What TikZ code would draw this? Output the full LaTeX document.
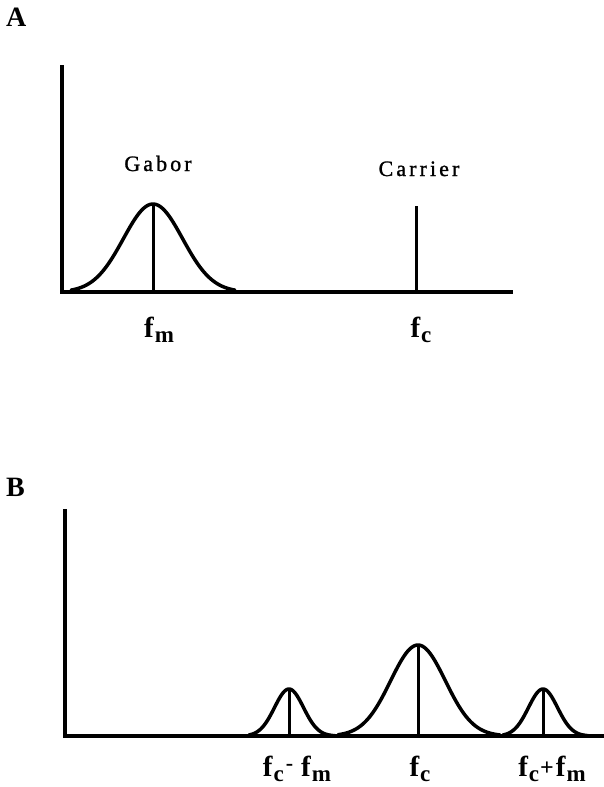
\documentclass[tikz,border=0pt]{standalone}
\usepackage{fontspec}
\setmainfont{Liberation Serif}
\newfontfamily\spacedfont[LetterSpace=14,FakeBold=1.2]{Liberation Serif}
\newfontfamily\freqfont[LetterSpace=8]{Liberation Serif}
\tikzset{
  axisline/.style={line width=3.5pt, line cap=rect},
  curveline/.style={line width=3.5pt, line join=round, line cap=round},
  stemline/.style={line width=3pt},
  panellabel/.style={font=\fontsize{28}{28}\selectfont\bfseries, anchor=base west, inner sep=0pt},
  namelabel/.style={font=\fontsize{22}{22}\selectfont\spacedfont, anchor=base, inner sep=0pt},
  freqlabel/.style={font=\fontsize{29}{29}\selectfont\freqfont\bfseries, anchor=base, inner sep=0pt}
}
\newcommand{\sbf}[1]{\kern1pt\raisebox{-5pt}{\fontsize{23}{23}\selectfont\freqfont\bfseries #1}}
\begin{document}
\begin{tikzpicture}[x=1pt,y=-1pt]
\useasboundingbox (0,0) rectangle (603,787);
% ---------- Panel A ----------
\node[panellabel] (la) at (6,27) {A};
\coordinate (ya) at (62,67);
\coordinate (oa) at (62,292);
\coordinate (xa) at (511,292);
\draw[axisline] (ya) -- (oa) -- (xa);
\draw[curveline] plot[domain=-82:82, samples=80, smooth] ({153+\x},{292-88*exp(-(\x*\x)/1750)});
\coordinate (gp) at (153,205);
\coordinate (gb) at (153,292);
\draw[stemline] (gp) -- (gb);
\coordinate (cp) at (416,206);
\coordinate (cb) at (416,292);
\draw[stemline] (cp) -- (cb);
\node[namelabel] (gabor) at (158,171) {Gabor};
\node[namelabel] (carrier) at (419,176) {Carrier};
\node[freqlabel] (fm) at (159,337) {f\sbf{m}};
\node[freqlabel] (fc) at (421,337) {f\sbf{c}};
% ---------- Panel B ----------
\node[panellabel] (lb) at (6,496) {B};
\coordinate (yb) at (65,511);
\coordinate (ob) at (65,736);
\coordinate (xb) at (603,736);
\draw[axisline] (yb) -- (ob) -- (xb);
\draw[curveline] plot[domain=-40:46, samples=60, smooth] ({289+\x},{736-47*exp(-(\x*\x)/420)});
\draw[curveline] plot[domain=-80:82, samples=80, smooth] ({418+\x},{736-91*exp(-(\x*\x)/1500)});
\draw[curveline] plot[domain=-40:45, samples=60, smooth] ({543+\x},{736-47*exp(-(\x*\x)/420)});
\coordinate (p1) at (289,690);
\coordinate (b1) at (289,736);
\draw[stemline] (p1) -- (b1);
\coordinate (p2) at (418,646);
\coordinate (b2) at (418,736);
\draw[stemline] (p2) -- (b2);
\coordinate (p3) at (543,690);
\coordinate (b3) at (543,736);
\draw[stemline] (p3) -- (b3);
\node[freqlabel] (fcm) at (297,776) {f\sbf{c}\kern2pt\raisebox{6pt}{\fontsize{22}{22}\selectfont -}\kern8pt f\sbf{m}};
\node[freqlabel] (fcc) at (420,776) {f\sbf{c}};
\node[freqlabel] (fcp) at (552,776) {f\sbf{c}\kern1pt\raisebox{1pt}{\fontsize{24}{24}\selectfont +}\kern2pt f\sbf{m}};
\end{tikzpicture}
\end{document}
